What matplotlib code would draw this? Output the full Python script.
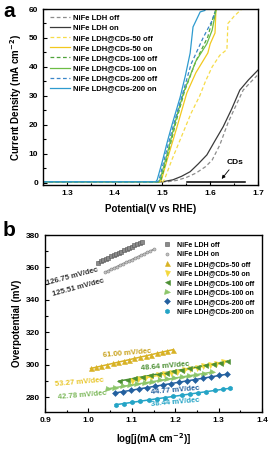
import numpy as np
import matplotlib
matplotlib.use('Agg')
from matplotlib import pyplot as plt
from matplotlib.ticker import MultipleLocator

plt.rcParams['font.family'] = ['Liberation Sans', 'DejaVu Sans']
plt.rcParams['font.weight'] = 'bold'

# ---- panel a: LSV curves (potential V vs RHE, current density mA cm-2)
ldh_off_v = [1.25, 1.51, 1.53, 1.55, 1.57, 1.59, 1.604, 1.62, 1.637, 1.652, 1.669, 1.685, 1.698]
ldh_off_j = [0.3, 0.3, 0.8, 1.8, 3.3, 5.5, 7.8, 13.0, 20.6, 26.0, 32.0, 34.8, 37.0]
ldh_on_v = [1.25, 1.50, 1.522, 1.54, 1.558, 1.575, 1.593, 1.61, 1.627, 1.645, 1.662, 1.68, 1.70]
ldh_on_j = [0.3, 0.3, 1.0, 2.2, 3.8, 6.5, 9.6, 14.5, 19.3, 25.5, 32.0, 35.5, 38.9]
cd50_off_v = [1.25, 1.50, 1.504, 1.52, 1.54, 1.56, 1.578, 1.59, 1.604, 1.62, 1.635, 1.637, 1.65, 1.666]
cd50_off_j = [0.3, 0.3, 1.0, 8.0, 16.0, 24.0, 30.0, 35.0, 40.0, 44.0, 46.0, 55.0, 57.5, 60.0]
cd50_on_v = [1.25, 1.495, 1.498, 1.51, 1.53, 1.551, 1.57, 1.595, 1.60, 1.61, 1.612]
cd50_on_j = [0.3, 0.3, 1.0, 8.0, 19.0, 31.0, 38.0, 44.8, 48.0, 51.7, 59.6]
cd100_off_v = [1.25, 1.494, 1.497, 1.51, 1.53, 1.546, 1.57, 1.595, 1.604, 1.612]
cd100_off_j = [0.3, 0.3, 1.0, 9.0, 22.0, 31.5, 42.0, 50.4, 56.0, 60.0]
cd100_on_v = [1.25, 1.492, 1.495, 1.51, 1.53, 1.545, 1.57, 1.593, 1.604, 1.612]
cd100_on_j = [0.3, 0.3, 1.0, 10.0, 23.0, 31.5, 42.0, 48.0, 52.7, 59.6]
cd200_off_v = [1.25, 1.49, 1.493, 1.51, 1.525, 1.541, 1.56, 1.585, 1.604, 1.61]
cd200_off_j = [0.3, 0.3, 1.0, 12.0, 21.0, 30.0, 41.0, 50.0, 56.0, 59.0]
cd200_on_v = [1.25, 1.486, 1.489, 1.50, 1.51, 1.52, 1.537, 1.548, 1.558, 1.564, 1.579, 1.589, 1.589]
cd200_on_j = [0.3, 0.3, 1.0, 7.5, 14.0, 20.0, 29.5, 37.0, 44.8, 53.8, 59.0, 59.5, 60.0]
cds_v = [1.551, 1.673]
cds_j = [0.3, 0.3]

# ---- panel b: Tafel data (log j, overpotential mV)
t_ldh_off_x = [1.022, 1.028, 1.034, 1.040, 1.046, 1.052, 1.058, 1.064, 1.070,
               1.076, 1.082, 1.088, 1.094, 1.100, 1.106, 1.112, 1.118, 1.124]
t_ldh_off_y = [363.0, 363.8, 364.5, 365.3, 366.0, 366.8, 367.6, 368.3, 369.1,
               369.8, 370.6, 371.4, 372.1, 372.9, 373.6, 374.4, 375.1, 375.9]
t_ldh_on_x = [1.038, 1.045, 1.052, 1.059, 1.066, 1.073, 1.080, 1.087, 1.094,
              1.101, 1.108, 1.115, 1.122, 1.129, 1.136, 1.143, 1.150]
t_ldh_on_y = [357.0, 357.9, 358.8, 359.7, 360.5, 361.4, 362.3, 363.2, 364.0,
              364.9, 365.8, 366.7, 367.6, 368.4, 369.3, 370.2, 371.1]
t_cd50_off_x = [1.005, 1.018, 1.030, 1.043, 1.056, 1.068, 1.081, 1.094,
                1.106, 1.119, 1.132, 1.144, 1.157, 1.170, 1.182, 1.195]
t_cd50_off_y = [297.8, 298.6, 299.3, 300.1, 300.9, 301.6, 302.4, 303.2,
                304.0, 304.8, 305.5, 306.3, 307.1, 307.9, 308.6, 309.4]
t_cd50_on_x = [1.100, 1.115, 1.130, 1.145, 1.160, 1.175, 1.190, 1.205,
               1.220, 1.235, 1.250, 1.265, 1.280, 1.295, 1.310]
t_cd50_on_y = [290.3, 291.1, 291.9, 292.7, 293.5, 294.3, 295.1, 295.9,
               296.7, 297.5, 298.3, 299.1, 299.9, 300.7, 301.5]
t_cd100_off_x = [1.070, 1.088, 1.106, 1.124, 1.142, 1.160, 1.178, 1.196,
                 1.214, 1.232, 1.250, 1.268, 1.286, 1.304, 1.320]
t_cd100_off_y = [290.0, 290.9, 291.8, 292.7, 293.5, 294.4, 295.3, 296.2,
                 297.0, 297.9, 298.8, 299.7, 300.6, 301.4, 302.2]
t_cd100_on_x = [1.045, 1.062, 1.079, 1.096, 1.113, 1.130, 1.147, 1.164,
                1.181, 1.198, 1.215, 1.232, 1.249, 1.266, 1.285]
t_cd100_on_y = [285.3, 286.0, 286.8, 287.5, 288.2, 288.9, 289.7, 290.4,
                291.1, 291.8, 292.6, 293.3, 294.0, 294.7, 295.6]
t_cd200_off_x = [1.061, 1.080, 1.098, 1.117, 1.135, 1.154, 1.172, 1.191,
                 1.209, 1.228, 1.246, 1.265, 1.283, 1.302, 1.319]
t_cd200_off_y = [282.7, 283.6, 284.4, 285.2, 286.0, 286.9, 287.7, 288.5,
                 289.3, 290.2, 291.0, 291.9, 292.6, 293.5, 294.3]
t_cd200_on_x = [1.063, 1.082, 1.101, 1.120, 1.139, 1.158, 1.177, 1.196,
                1.215, 1.234, 1.253, 1.272, 1.291, 1.310, 1.326]
t_cd200_on_y = [275.5, 276.2, 277.0, 277.7, 278.4, 279.1, 279.9, 280.6,
                281.3, 282.1, 282.8, 283.5, 284.3, 285.0, 285.6]

names = ['NiFe LDH off', 'NiFe LDH on', 'NiFe LDH@CDs-50 off', 'NiFe LDH@CDs-50 on',
         'NiFe LDH@CDs-100 off', 'NiFe LDH@CDs-100 on', 'NiFe LDH@CDs-200 off',
         'NiFe LDH@CDs-200 on']
slopes = ['126.75 mV/dec', '125.51 mV/dec', '61.00 mV/dec', '53.27 mV/dec',
          '48.64 mV/dec', '42.78 mV/dec', '44.77 mV/dec', '38.44 mV/dec']

W, H = 272, 449
fig = plt.figure(figsize=(W / 100, H / 100), dpi=100)


def style_axes(ax):
    ax.tick_params(which='both', direction='in', labelsize=6, width=0.8,
                   top=False, right=False)
    ax.tick_params(which='major', length=3)
    ax.tick_params(which='minor', length=1.8)
    for s in ax.spines.values():
        s.set_linewidth(1.0)
    for lab in ax.get_xticklabels() + ax.get_yticklabels():
        lab.set_fontweight('bold')


# ---------------- panel a
ax = fig.add_axes([43 / W, 1 - 185 / H, 215 / W, 176 / H])
a_series = [
    (ldh_off_v, ldh_off_j, '#8c8c8c', '--'),
    (ldh_on_v, ldh_on_j, '#3a3a3a', '-'),
    (cd50_off_v, cd50_off_j, '#f6dc48', '--'),
    (cd50_on_v, cd50_on_j, '#f2c81e', '-'),
    (cd100_off_v, cd100_off_j, '#4fa33a', '--'),
    (cd100_on_v, cd100_on_j, '#6cbd45', '-'),
    (cd200_off_v, cd200_off_j, '#3a86c8', '--'),
    (cd200_on_v, cd200_on_j, '#2e9bcf', '-'),
]
for (v, j, c, ls), name in zip(a_series, names):
    ax.plot(v, j, color=c, ls=ls, lw=0.9, label=name,
            dashes=(3, 2) if ls == '--' else (None, None))
ax.plot(cds_v, cds_j, color='black', lw=1.1)
ax.annotate('CDs', xy=(1.624, 1.3), xytext=(1.652, 7.0), fontsize=6,
            fontweight='bold', ha='center', va='center',
            arrowprops=dict(arrowstyle='-|>', color='black', lw=0.6,
                            mutation_scale=5, shrinkA=1, shrinkB=0))
ax.set_xlim(1.25, 1.7)
ax.set_ylim(-0.8, 60)
ax.xaxis.set_major_locator(MultipleLocator(0.1))
ax.xaxis.set_minor_locator(MultipleLocator(0.05))
ax.yaxis.set_major_locator(MultipleLocator(10))
ax.yaxis.set_minor_locator(MultipleLocator(5))
ax.set_xlabel('Potential(V vs RHE)', fontsize=7, fontweight='bold', labelpad=5)
ax.set_ylabel('Current Density (mA cm$^{\\mathbf{-2}}$)', fontsize=7,
              fontweight='bold', labelpad=3)
style_axes(ax)
leg = ax.legend(loc='upper left', frameon=False, fontsize=5.5, handlelength=2.6,
                labelspacing=0.36, borderaxespad=0.3, handletextpad=0.4,
                bbox_to_anchor=(0.01, 1.0))
for t in leg.get_texts():
    t.set_fontweight('bold')
fig.text(3 / W, 1 - 2 / H, 'a', fontsize=15, fontweight='bold', va='top')

# ---------------- panel b
bx = fig.add_axes([45 / W, 1 - 412 / H, 217 / W, 177 / H])
b_series = [
    (t_ldh_off_x, t_ldh_off_y, '#8a8a8a', '#555555', 's', 2.2),
    (t_ldh_on_x, t_ldh_on_y, '#c4c4c4', '#888888', 'o', 2.2),
    (t_cd50_off_x, t_cd50_off_y, '#d8b224', '#d8b224', '^', 3.6),
    (t_cd50_on_x, t_cd50_on_y, '#f4d83c', '#f4d83c', 'v', 3.6),
    (t_cd100_off_x, t_cd100_off_y, '#4b8f32', '#4b8f32', '<', 3.6),
    (t_cd100_on_x, t_cd100_on_y, '#8cc66a', '#8cc66a', '>', 3.6),
    (t_cd200_off_x, t_cd200_off_y, '#23609f', '#23609f', 'D', 3.0),
    (t_cd200_on_x, t_cd200_on_y, '#24a4c6', '#24a4c6', 'h', 3.4),
]
for (x, y, fc, ec, m, ms), name in zip(b_series, names):
    x = np.asarray(x)
    k, b0 = np.polyfit(x, y, 1)
    bx.plot(x, k * x + b0, color=ec, lw=1.1, zorder=2)
    bx.plot(x, y, ls='none', marker=m, ms=ms, mfc=fc, mec=ec, mew=0.4,
            label=name, zorder=3)

# slope labels: (x, y, rotation)
lab_pos = [(0.962, 354.3, 15), (0.976, 347.6, 15), (1.088, 306.8, 5),
           (0.978, 289.0, 5), (1.176, 298.8, 5), (0.985, 281.2, 5),
           (1.200, 284.6, 5), (1.200, 277.2, 5)]
lab_col = ['#333333', '#333333', '#c9a21c', '#e8c62a', '#4b8f32', '#7cb85a',
           '#23609f', '#24a4c6']
for (x, y, r), c, s in zip(lab_pos, lab_col, slopes):
    bx.text(x, y, s, fontsize=5.6, fontweight='bold', color=c, rotation=r,
            ha='center', va='center')

bx.set_xlim(0.9, 1.4)
bx.set_ylim(271, 380)
bx.xaxis.set_major_locator(MultipleLocator(0.1))
bx.xaxis.set_minor_locator(MultipleLocator(0.05))
bx.yaxis.set_major_locator(MultipleLocator(20))
bx.yaxis.set_minor_locator(MultipleLocator(10))
bx.set_xlabel('log[j(mA cm$^{\\mathbf{-2}}$)]', fontsize=7, fontweight='bold',
              labelpad=5)
bx.set_ylabel('Overpotential (mV)', fontsize=7, fontweight='bold', labelpad=3)
style_axes(bx)
leg = bx.legend(loc='upper right', frameon=False, fontsize=5.0,
                labelspacing=0.36, handletextpad=1.0, borderaxespad=0.3,
                bbox_to_anchor=(0.985, 0.99), markerscale=1.0, handlelength=0.8)
for t in leg.get_texts():
    t.set_fontweight('bold')
fig.text(3 / W, 1 - 221 / H, 'b', fontsize=15, fontweight='bold', va='top')

fig.savefig('out.png', dpi=100)
